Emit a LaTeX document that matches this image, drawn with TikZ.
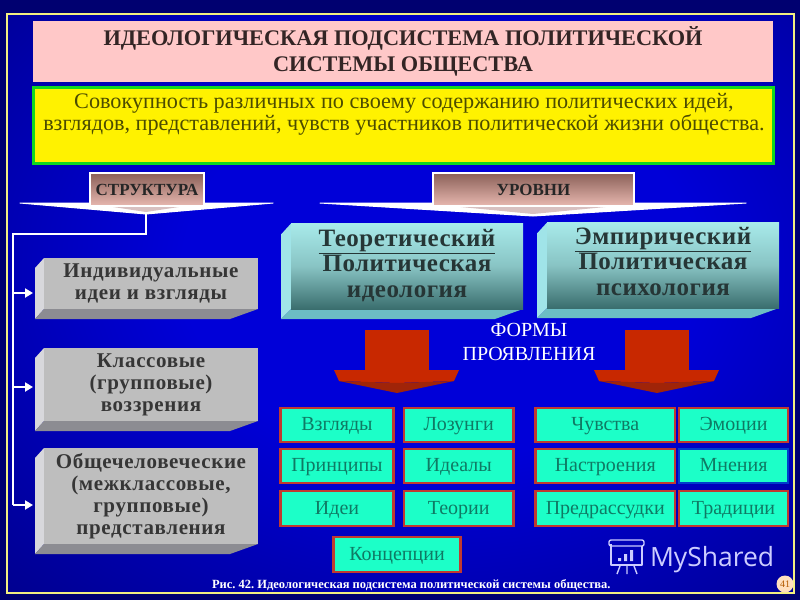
\documentclass[tikz,border=0pt]{standalone}
\usepackage{fontspec}
\setmainfont{Liberation Serif}
\newfontfamily\logofont{Open Sans}
\usetikzlibrary{arrows.meta,calc}
\definecolor{navyout}{HTML}{000070}
\definecolor{bluein}{HTML}{0000D8}
\definecolor{frameyel}{HTML}{F4F080}
\definecolor{pinktitle}{HTML}{FFC8C8}
\definecolor{inktitle}{HTML}{332525}
\definecolor{okgreen}{HTML}{10D820}
\definecolor{olivetxt}{HTML}{4C4C00}
\definecolor{aqua}{HTML}{1CFFC8}
\definecolor{aquatxt}{HTML}{0F7A64}
\definecolor{redbord}{HTML}{C03A30}
\definecolor{arrowred}{HTML}{C82800}
\definecolor{arrowdark}{HTML}{A02408}
\definecolor{grayface}{HTML}{BEBEBE}
\definecolor{graybevel}{HTML}{8C8C92}
\definecolor{grayleft}{HTML}{D8D8DC}
\definecolor{graytxt}{HTML}{363636}
\definecolor{tealtop}{HTML}{A8EAEA}
\definecolor{tealmid}{HTML}{88C4C4}
\definecolor{tealbot}{HTML}{3A6E6E}
\definecolor{tealleft}{HTML}{A0E4E8}
\definecolor{tealunder}{HTML}{6CBEC4}
\definecolor{tealtxt}{HTML}{263636}
\definecolor{tagtop}{HTML}{8A6058}
\definecolor{tagbot}{HTML}{E8B8B0}
\definecolor{taginner}{HTML}{D8C0C0}
\pgfdeclareradialshading{bgglow}{\pgfpoint{0bp}{0bp}}{color(0bp)=(bluein); color(14bp)=(bluein); color(42bp)=(navyout); color(100bp)=(navyout)}
\tikzset{
  x=1pt,y=-1pt,
  face/.style={inner sep=0pt,outer sep=0pt,align=center,line width=0pt},
  grayfront/.style={face,fill=grayface,text=graytxt,font=\fontsize{21}{22}\selectfont\bfseries\addfontfeature{LetterSpace=3}},
  tealfront/.style={face,top color=tealtop,bottom color=tealbot,middle color=tealmid,text=tealtxt,font=\fontsize{25}{25.5}\selectfont\bfseries\addfontfeature{LetterSpace=2}},
  tagbox/.style={face,draw=white,line width=2.5pt,top color=tagtop,bottom color=tagbot,text=black!85,font=\fontsize{17}{18}\selectfont\bfseries},
  cell/.style={face,fill=aqua,draw=redbord,line width=2.5pt,text=aquatxt,text height=14pt,text depth=2.5pt,font=\fontsize{20}{22}\selectfont},
  wire/.style={draw=white,line width=2.6pt},
  wirearrow/.style={wire,-{Triangle[length=8pt,width=9pt]}},
  chev/.style={fill=white,draw=white,line width=1pt,line join=round},
  chevinner/.style={fill=taginner},
  logoline/.style={draw=white!80!blue,line width=1.4pt,line join=round},
}
\newcommand{\graybox}[4]{%
  \fill[grayleft] (44,#2) -- (35,#2+10) -- (35,#3+10) -- (44,#3) -- cycle;
  \fill[graybevel] (44,#3) -- (258,#3) -- (230,#3+10) -- (35,#3+10) -- cycle;
  \node[grayfront,minimum width=214pt,minimum height={#3-#2},anchor=north west] (#1) at (44,#2) {#4};
}
\newcommand{\tealbox}[5]{%
  \fill[tealleft] (#2,#3) -- (#2-10,#3+11) -- (#2-10,#4+10) -- (#2,#4) -- cycle;
  \fill[tealunder] (#2,#4) -- (#2+232,#4) -- (#2+204,#4+10) -- (#2-10,#4+10) -- cycle;
  \node[tealfront,minimum width=232pt,minimum height={#4-#3},anchor=north west] (#1) at (#2,#3) {#5};
}
\newcommand{\redarrow}[2]{%
  \fill[arrowred] (#1-32,330) rectangle (#1+32,371);
  \fill[arrowred] (#1-63,370) -- (#1+62,370) -- (#1+57,381) -- (#1,383) -- (#1-58,381) -- cycle;
  \fill[arrowdark] (#1-58,381) -- (#1,383) -- (#1+57,381) -- (#1,393) -- cycle;
  \coordinate (#2) at (#1,393);
}
\newcommand{\smallcell}[6]{%
  \node[cell,minimum width={#4-#2},minimum height={#5-#3},anchor=north west] (#1) at (#2,#3) {#6};
}
\begin{document}
\frenchspacing
\begin{tikzpicture}
\useasboundingbox (0,0) rectangle (800,600);
\fill[navyout] (0,0) rectangle (800,600);
\begin{scope}
  \clip (7,14) rectangle (795,593);
  \shade[shading=bgglow] (-20,-70) rectangle (900,610);
\end{scope}
\draw[frameyel,line width=1.8pt] (7,14) rectangle (794,593);

\node[face,fill=pinktitle,minimum width=740pt,minimum height=61pt,anchor=north west,text=inktitle,
      font=\fontsize{22.3}{26}\selectfont\bfseries] (title) at (33,21)
  {ИДЕОЛОГИЧЕСКАЯ ПОДСИСТЕМА ПОЛИТИЧЕСКОЙ\\СИСТЕМЫ ОБЩЕСТВА};
\node[face,fill=yellow,draw=okgreen,line width=3pt,minimum width=740pt,minimum height=76pt,anchor=north west] (defbox) at (33,87) {};
\node[face,text=olivetxt,font=\fontsize{22.2}{22}\selectfont] (deftext) at (404,114)
  {Совокупность различных по своему содержанию политических идей,\\взглядов, представлений, чувств участников политической жизни общества.};

\draw[chev] (20,203) -- (273,203) -- (146,214) -- cycle;
\draw[chev] (320,203) -- (746,203) -- (533,216) -- cycle;
\fill[chevinner] (100,205) -- (192,205) -- (146,212) -- cycle;
\fill[chevinner] (440,205) -- (626,205) -- (533,214) -- cycle;
\coordinate (stip) at (146,214);
\node[tagbox,minimum width=114pt,minimum height=33pt,anchor=north west] (struct) at (90,173) {СТРУКТУРА};
\node[tagbox,minimum width=201pt,minimum height=33pt,anchor=north west] (levels) at (433,173) {УРОВНИ};

\graybox{ind}{258}{309}{Индивидуальные\\идеи и взгляды}
\graybox{cls}{348}{421}{Классовые\\(групповые)\\воззрения}
\graybox{uni}{448}{544}{Общечеловеческие\\(межклассовые,\\групповые)\\представления}

\coordinate (corner) at (13,234);
\coordinate (b1) at (13,293);
\coordinate (b2) at (13,387);
\coordinate (b3) at (13,505);
\draw[wire,line join=miter] (stip) |- (corner) -- (b3);
\draw[wirearrow,shorten >=11pt] (b1) -- (b1 -| ind.west);
\draw[wirearrow,shorten >=11pt] (b2) -- (b2 -| cls.west);
\draw[wirearrow,shorten >=11pt] (b3) -- (b3 -| uni.west);

\tealbox{theo}{291}{223.5}{309}{\underline{Теоретический}\\Политическая\\идеология\rule[-6.5pt]{0pt}{6.5pt}}
\tealbox{emp}{547}{222.5}{308}{\underline{Эмпирический}\\Политическая\\психология\rule[-8pt]{0pt}{8pt}}

\redarrow{397}{rtipa}
\redarrow{657}{rtipb}
\node[face,text=white,font=\fontsize{20}{24}\selectfont] (forms) at (529,342) {ФОРМЫ\\ПРОЯВЛЕНИЯ};

\smallcell{c1}{280.5}{408}{393.5}{442}{Взгляды}
\smallcell{c2}{404}{408}{513.5}{442}{Лозунги}
\smallcell{c3}{535.5}{408}{675}{442}{Чувства}
\smallcell{c4}{679}{408}{788}{442}{Эмоции}
\smallcell{c5}{280.5}{449}{393.5}{483}{Принципы}
\smallcell{c6}{404}{449}{513.5}{483}{Идеалы}
\smallcell{c7}{535.5}{449}{675}{483}{Настроения}
\node[cell,draw=blue!70!cyan!80!black,minimum width=109pt,minimum height=34pt,anchor=north west] (c8) at (679,449) {Мнения};
\smallcell{c9}{280.5}{491}{393.5}{526}{Идеи}
\smallcell{c10}{404}{491}{513.5}{526}{Теории}
\smallcell{c11}{535.5}{491}{675}{526}{Предрассудки}
\smallcell{c12}{679}{491}{788}{526}{Традиции}
\smallcell{c13}{333.5}{537}{460.5}{572}{Концепции}

\node[face,text=white,font=\fontsize{12.5}{14}\selectfont\bfseries,anchor=west] (caption) at (212,585)
  {Рис. 42. Идеологическая подсистема политической системы общества.};
\node[face,circle,fill=orange!25!white,minimum size=17pt,text=orange!70!black,font=\fontsize{10}{11}\selectfont] (badge) at (785,584) {41};

\node[face,anchor=base west,text=white!80!blue,font=\logofont\fontsize{26.5}{30}\selectfont] (mark) at (650,566) {MyShared};
\draw[logoline] (611,544) -- (611,565) -- (642,565) -- (642,546);
\draw[logoline,rounded corners=2pt] (609,546) -- (609,540) -- (644,540) -- (644,546) -- cycle;
\draw[logoline] (620,566) -- (617,574) (627,566) -- (627,574) (634,566) -- (637,574);
\fill[white!80!blue] (618,558) rectangle (621,561) (624,554) rectangle (627,561) (630,550) rectangle (633,561);
\end{tikzpicture}
\end{document}
